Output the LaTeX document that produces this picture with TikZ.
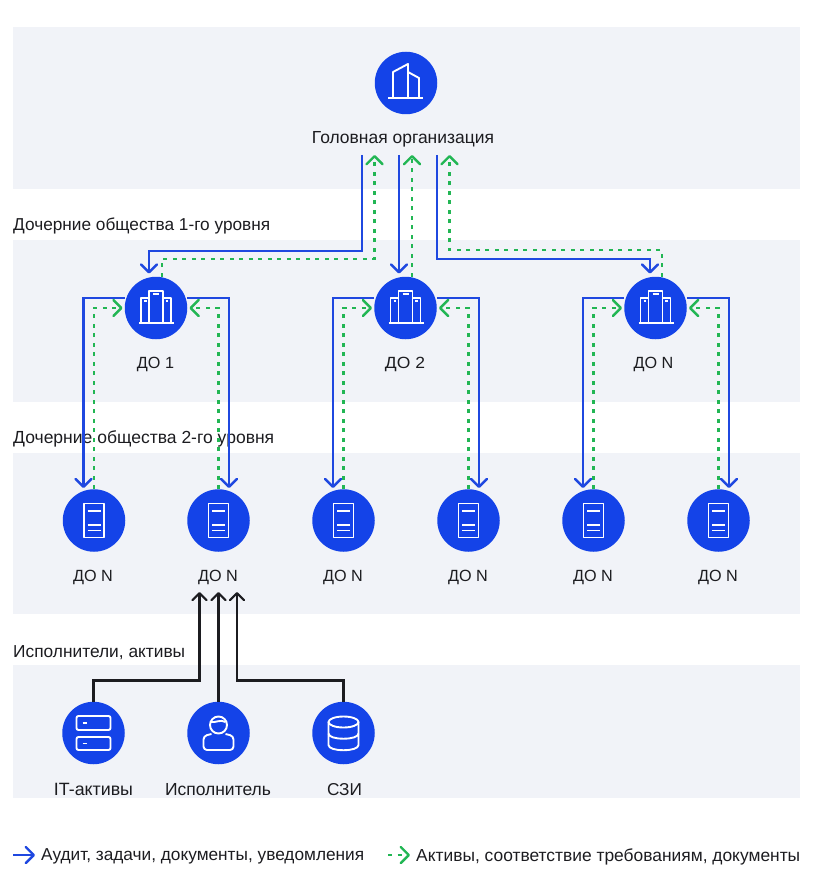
\documentclass[tikz,border=0pt]{standalone}
\usepackage{fontspec}
\setmainfont{Liberation Sans}
\usetikzlibrary{arrows.meta,calc}
\definecolor{band}{HTML}{F1F3F8}
\definecolor{nodeblue}{HTML}{1443E8}
\definecolor{linkblue}{HTML}{1F48E0}
\definecolor{linkgreen}{HTML}{22B654}
\definecolor{ink}{HTML}{1C1C20}
\newcommand{\widthto}[2]{\resizebox{#1pt}{!}{#2}}
\newcommand{\doloop}[3]{%
  \draw[audit] ([yshift=10pt]#1.west) -| ([xshift=-10.5pt,yshift=1pt]#2.north);
  \draw[audit] ([yshift=10pt]#1.east) -| ([xshift=10.5pt,yshift=1pt]#3.north);
  \draw[assets] (#2.north) |- ([xshift=-2pt]#1.west);
  \draw[assets] (#3.north) |- ([xshift=2pt]#1.east);
}
\tikzset{
  x=1pt,y=-1pt,
  panel/.style={fill=band,draw=none},
  round/.style={circle,fill=nodeblue,draw=none,minimum size=62.5pt,inner sep=0pt},
  label/.style={text=ink,font=\fontsize{16.2}{18}\selectfont,inner sep=0pt},
  title/.style={label,anchor=west},
  audit/.style={draw=linkblue,line width=2.6pt,-{Straight Barb[length=8pt,width=16pt,line width=2.4pt,round]}},
  assets/.style={draw=linkgreen,line width=2.8pt,dash pattern=on 4pt off 5.5pt,-{Straight Barb[length=8pt,width=16pt,line width=2.4pt,round]}},
  feed/.style={draw=ink,line width=2.4pt,-{Straight Barb[length=7pt,width=14pt,line width=2.2pt,round]}},
  glyph/.style={draw=white,line width=1.9pt,line join=round,fill=none},
  hq/.pic={
    \draw[glyph] (-18,15) -- (17,15);
    \draw[glyph] (-13,15) -- (-13,-11) -- (2,-19) -- (2,15);
    \draw[glyph] (2,-11) -- (13,-5) -- (13,15);
  },
  towers/.pic={
    \draw[glyph] (-17,15) -- (18,15);
    \draw[glyph] (-7,15) -- (-7,-17) -- (7,-17) -- (7,15);
    \draw[glyph] (-7,-10) -- (-15,-10) -- (-15,15);
    \draw[glyph] (7,-10) -- (15,-10) -- (15,15);
    \draw[glyph] (-3,-14) -- (3,-14);
    \draw[glyph] (-12,-7) -- (-9.5,-7);
    \draw[glyph] (9.5,-7) -- (12,-7);
  },
  server/.pic={
    \draw[glyph] (-10,-17) rectangle (10,17);
    \draw[glyph] (-6.5,-9.5) -- (6.5,-9.5);
    \draw[glyph] (-6.5,4.5) -- (6.5,4.5);
    \draw[glyph] (-6.5,10) -- (6.5,10);
  },
  rack/.pic={
    \draw[glyph,rounded corners=2pt] (-17,-17) rectangle (17,-3);
    \draw[glyph,rounded corners=2pt] (-17,4) rectangle (17,17);
    \draw[glyph] (-11,-10) -- (-7,-10);
    \draw[glyph] (-11,10.5) -- (-7,10.5);
  },
  person/.pic={
    \draw[glyph] (0,-8) circle (8.5);
    \draw[glyph] (-8,-11) .. controls (-3,-10) and (2,-14) .. (7,-11);
    \draw[glyph,rounded corners=3.5pt] (-7,1) -- (-15,3) -- (-15,17) -- (15,17) -- (15,3) -- (7,1);
  },
  dbase/.pic={
    \draw[glyph] (0,-11) ellipse (15 and 5.5);
    \draw[glyph] (-15,-11) -- (-15,12) .. controls (-15,19) and (15,19) .. (15,12) -- (15,-11);
    \draw[glyph] (-15,0.5) .. controls (-15,7.5) and (15,7.5) .. (15,0.5);
  },
}
\begin{document}
\begin{tikzpicture}
\useasboundingbox (0,0) rectangle (812,877);
% bands
\fill[panel] (13,27) rectangle (800,189);
\fill[panel] (13,240) rectangle (800,402);
\fill[panel] (13,453) rectangle (800,614);
\fill[panel] (13,665) rectangle (800,798);
% nodes
\node[round] (head) at (406,83) {};
\node[round] (do1) at (156,308) {};
\node[round] (do2) at (405.5,308) {};
\node[round] (don) at (655.5,308) {};
\node[round] (l1) at (94,520.5) {};
\node[round] (l2) at (218.5,520.5) {};
\node[round] (l3) at (343.5,520.5) {};
\node[round] (l4) at (468.5,520.5) {};
\node[round] (l5) at (593.5,520.5) {};
\node[round] (l6) at (718.5,520.5) {};
\node[round] (it) at (93.5,733) {};
\node[round] (man) at (218.5,733) {};
\node[round] (szi) at (343.5,733) {};
\pic at (head) {hq};
\pic at (do1) {towers};
\pic at (do2) {towers};
\pic at (don) {towers};
\foreach \n in {l1,l2,l3,l4,l5,l6} {\pic at (\n) {server};}
\pic at (it) {rack};
\pic at (man) {person};
\pic at (szi) {dbase};
% labels
\node[label] (headtxt) at (403,139.5) {\widthto{182}{Головная организация}};
\node[label] (t1) at (155.5,364.5) {ДО 1};
\node[label] (t2) at (405,364.5) {\scalebox{1.08}[1]{ДО 2}};
\node[label] (t3) at (653.5,364.5) {ДО N};
\foreach \x/\n in {93/a,218/b,343/c,468/d,593/e,718/f} {\node[label] (u\n) at (\x,577) {ДО N};}
\node[label] (v1) at (93.5,789.5) {\widthto{79}{IT-активы}};
\node[label] (v2) at (218,789.5) {\widthto{106}{Исполнитель}};
\node[label] (v3) at (344.5,789.5) {\widthto{35}{СЗИ}};
\node[title] (z1) at (13,225.5) {\widthto{257}{Дочерние общества 1-го уровня}};
\node[title] (z2) at (13,438.5) {\widthto{261}{Дочерние общества 2-го уровня}};
\node[title] (z3) at (13,652.5) {\widthto{172}{Исполнители, активы}};
\node[title] (k1) at (41,856.5) {\widthto{323}{Аудит, задачи, документы, уведомления}};
\node[title] (k2) at (416,856.5) {\widthto{384}{Активы, соответствие требованиям, документы}};
% free ends below the head label
\coordinate (ha) at (362,155);
\coordinate (hb) at (374.5,155);
\coordinate (hc) at (399,155);
\coordinate (hd) at (412,155);
\coordinate (he) at (437,155);
\coordinate (hf) at (449.5,155);
\coordinate (bendA) at (149,251);
\coordinate (bendB) at (162,259);
\coordinate (bendE) at (650,259);
\coordinate (bendF) at (662,250);
% head to first level
\draw[audit] (ha) |- (bendA) -- ([xshift=-7pt,yshift=3pt]do1.north);
\draw[assets] ([xshift=6pt]do1.north) -- (bendB) -| (hb);
\draw[audit] (hc) -- ([xshift=-6.5pt,yshift=3pt]do2.north);
\draw[assets] ([xshift=6.5pt]do2.north) -- (hd);
\draw[audit] (he) |- (bendE) -- ([xshift=-5.5pt,yshift=3pt]don.north);
\draw[assets] ([xshift=6.5pt]don.north) -- (bendF) -| (hf);
% first to second level
\doloop{do1}{l1}{l2}
\doloop{do2}{l3}{l4}
\doloop{don}{l5}{l6}
% performers
\coordinate (in1) at (199.5,592);
\coordinate (in2) at (218.5,592);
\coordinate (in3) at (237,592);
\draw[feed] (it.north) -- ++(0,-21) -| (in1);
\draw[feed] (man.north) -- (in2);
\draw[feed] (szi.north) -- ++(0,-21) -| (in3);
% legend
\coordinate (k1a) at (13,855);
\coordinate (k1b) at (35,855);
\coordinate (k2a) at (388,855);
\coordinate (k2b) at (410,855);
\draw[audit] (k1a) -- (k1b);
\draw[assets] (k2a) -- (k2b);
\end{tikzpicture}
\end{document}
